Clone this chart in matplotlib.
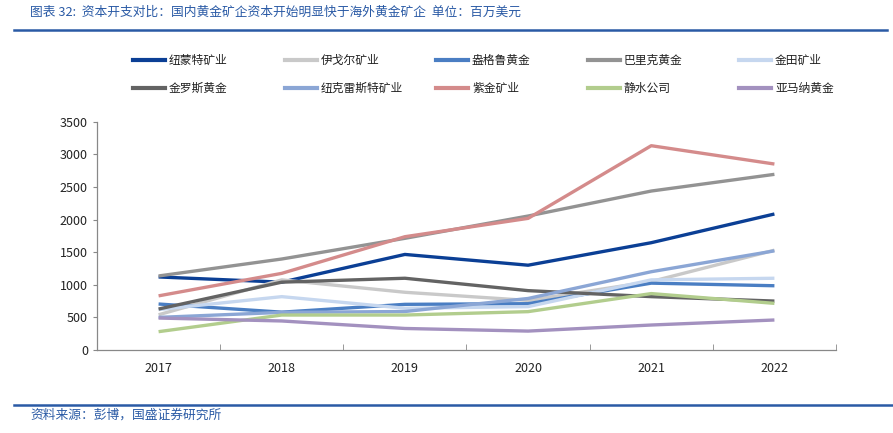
import numpy as np
import matplotlib
matplotlib.use('Agg')
from matplotlib import pyplot as plt
from matplotlib.lines import Line2D

plt.rcParams['font.family'] = ['Noto Sans CJK SC', 'DejaVu Sans']

years = ['2017', '2018', '2019', '2020', '2021', '2022']

# 资本开支 (百万美元)
names = ['纽蒙特矿业', '伊戈尔矿业', '盎格鲁黄金', '巴里克黄金', '金田矿业',
         '金罗斯黄金', '纽克雷斯特矿业', '紫金矿业', '静水公司', '亚马纳黄金']
newmont = [1120, 1040, 1465, 1300, 1645, 2085]
agnico = [540, 1075, 885, 760, 1050, 1530]
anglogold = [705, 580, 700, 710, 1025, 985]
barrick = [1135, 1395, 1712, 2054, 2437, 2693]
goldfields = [620, 818, 640, 665, 1075, 1100]
kinross = [628, 1040, 1100, 910, 818, 750]
newcrest = [500, 577, 590, 790, 1200, 1520]
zijin = [830, 1175, 1737, 2018, 3132, 2851]
sibanye = [281, 536, 536, 588, 865, 715]
yamana = [490, 445, 330, 290, 383, 460]

series = [newmont, agnico, anglogold, barrick, goldfields,
          kinross, newcrest, zijin, sibanye, yamana]
colors = ['#0B3F95', '#C9C9C9', '#4A7EC3', '#939393', '#C6D7EF',
          '#636363', '#8BA6D5', '#D48B8B', '#B2CD8D', '#A391BF']

W, H = 893, 433
fig = plt.figure(figsize=(8.93, 4.33), dpi=100)
ax = fig.add_axes([97 / W, 1 - 350 / H, (836 - 97) / W, (350 - 121.7) / H])

x = np.arange(len(years))
for vals, c in zip(series, colors):
    ax.plot(x, vals, color=c, lw=2.4, solid_capstyle='butt')

ax.set_xlim(-0.5, 5.5)
ax.set_ylim(0, 3500)
ax.set_yticks(range(0, 3501, 500))
ax.set_xticks(x)
ax.set_xticklabels(years)
ax.set_xticks(np.arange(-0.5, 5.6, 1), minor=True)
ax.tick_params(axis='x', which='major', length=0, pad=9, labelsize=9, colors='#222222')
ax.tick_params(axis='x', which='minor', length=4, direction='in', color='#888888')
ax.tick_params(axis='y', length=3, color='#888888', labelsize=9, labelcolor='#222222')
for s in ['top', 'right']:
    ax.spines[s].set_visible(False)
for s in ['left', 'bottom']:
    ax.spines[s].set_color('#888888')
    ax.spines[s].set_linewidth(0.9)

# 图例 (按行排列, 两行五列)
for i, (name, c) in enumerate(zip(names, colors)):
    row, col = divmod(i, 5)
    x0 = 133 + col * 151.5
    y0 = 1 - (60 + row * 28) / H
    fig.add_artist(Line2D([x0 / W, (x0 + 32) / W], [y0, y0], color=c, lw=3))
    fig.text((x0 + 36) / W, y0, name, fontsize=8.5, va='center', color='#222222')

# 标题与来源
blue = '#2A5AA5'
fig.text(30 / W, 1 - 12 / H, '图表 32:  资本开支对比：国内黄金矿企资本开始明显快于海外黄金矿企  单位：百万美元',
         fontsize=9.2, color=blue, style='italic', va='center')
fig.add_artist(Line2D([14 / W, 887 / W], [1 - 30 / H] * 2, color=blue, lw=1.8))
fig.add_artist(Line2D([14 / W, 1], [1 - 405 / H] * 2, color=blue, lw=1.8))
fig.text(30 / W, 1 - 415 / H, '资料来源：彭博，国盛证券研究所',
         fontsize=9.2, color=blue, style='italic', va='center')

fig.savefig('out.png', dpi=100)
